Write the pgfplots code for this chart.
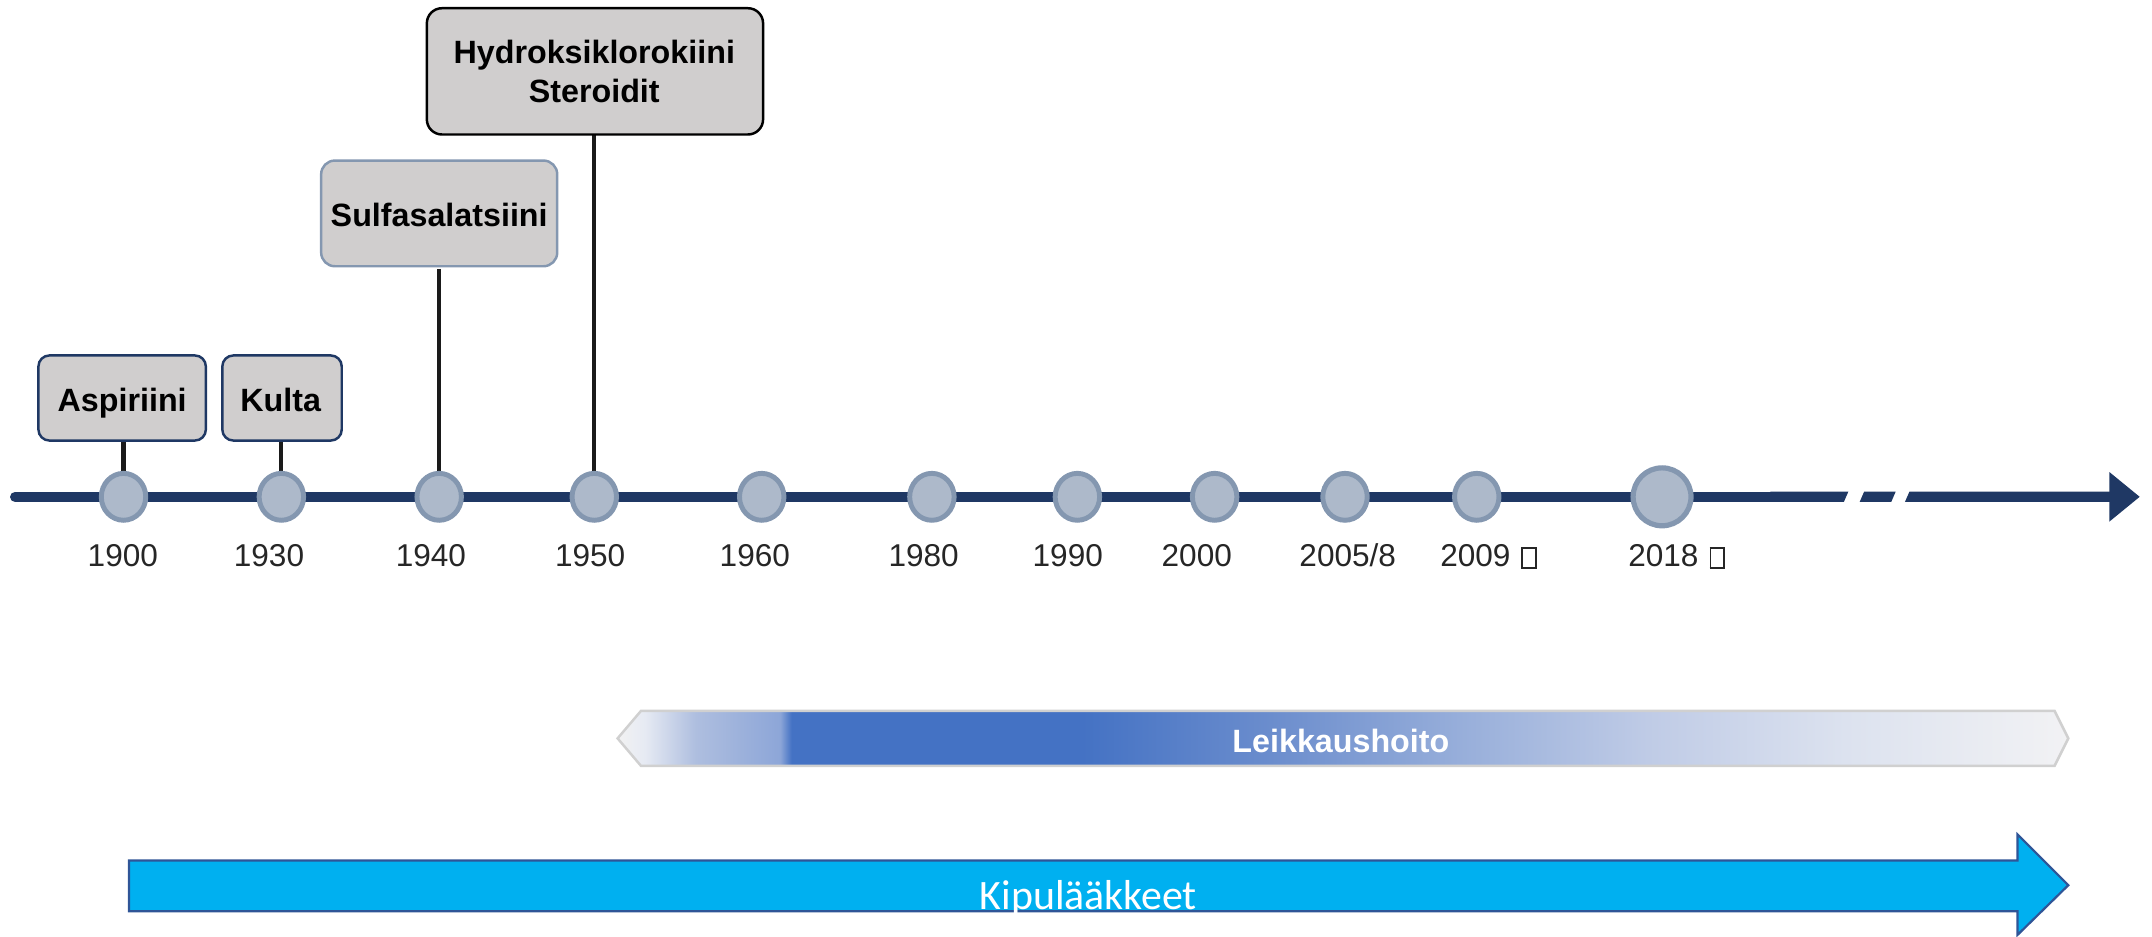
\documentclass[border=0pt]{standalone}
\usepackage{fontspec}
\setmainfont{Liberation Sans}
\newfontfamily\carlito{Carlito}
\usepackage{pgfplots}
\pgfplotsset{compat=1.18}

\definecolor{navy}{HTML}{1F3864}
\definecolor{ring}{HTML}{8497B0}
\definecolor{inner}{HTML}{ADB9CA}
\definecolor{boxfill}{HTML}{D0CECE}
\definecolor{yeartext}{HTML}{262626}
\definecolor{conn}{HTML}{1A1A1A}
\definecolor{kipu}{HTML}{00B0F0}
\definecolor{kipuedge}{HTML}{2F5597}
\definecolor{bandedge}{HTML}{D0D0D0}
\definecolor{s0}{HTML}{F2F2F2}
\definecolor{s1}{HTML}{E6EAF3}
\definecolor{s2}{HTML}{AEBEDF}
\definecolor{s3}{HTML}{8DA6D8}
\definecolor{s4}{HTML}{4472C4}
\definecolor{s5}{HTML}{4472C4}
\definecolor{s6}{HTML}{6B8DCD}
\definecolor{s7}{HTML}{97AEDA}
\definecolor{s8}{HTML}{BFCBE6}
\definecolor{s9}{HTML}{DCE2EF}
\definecolor{s10}{HTML}{F2F2F4}

\pgfdeclarehorizontalshading{leik}{100bp}{color(0bp)=(s0); color(25bp)=(s0); color(25.95bp)=(s1); color(27.7bp)=(s2); color(30.6bp)=(s3); color(31bp)=(s4); color(41bp)=(s5); color(47.5bp)=(s6); color(54bp)=(s7); color(60.5bp)=(s8); color(67.3bp)=(s9); color(75bp)=(s10); color(100bp)=(s10)}

\pgfplotstableread{
x y
90 320
205 320
320 320
433 320
555 320
679 320
785 320
885 320
980 320
1076 320
}\milestones

\newcommand{\tofu}{\rlap{\hspace{8pt}{\setlength{\fboxsep}{0pt}\setlength{\fboxrule}{1.4pt}\fbox{\rule{0pt}{13pt}\hspace{8.5pt}}}}}

\begin{document}
\begin{tikzpicture}
\begin{axis}[hide axis, scale only axis, width=1568pt, height=682pt,
  xmin=0, xmax=1568, ymin=0, ymax=682, clip=false]

\path (axis cs:0,0) rectangle (axis cs:1568,682);

% Leikkaushoito band
\addplot[shading=leik, draw=bandedge, line width=1.8pt] coordinates
  {(450,144) (467,164) (1497,164) (1507,144) (1497,124) (467,124)} -- cycle;

% Kipulaakkeet arrow
\addplot[fill=kipu, draw=kipuedge, line width=1.6pt] coordinates
  {(94,55) (1470,55) (1470,74) (1507,37) (1470,0.8) (1470,18) (94,18)} -- cycle;

% timeline
\addplot[navy, line width=7.4pt, line cap=round] coordinates {(11,320) (1300,320)};
\addplot[fill=navy, draw=none] coordinates
  {(1290,316.3) (1343.5,316.3) (1346.7,323.7) (1290,323.7)} -- cycle;
\addplot[fill=navy, draw=none] coordinates
  {(1355,316.3) (1378,316.3) (1381.2,323.7) (1358.2,323.7)} -- cycle;
\addplot[fill=navy, draw=none] coordinates
  {(1388,316.3) (1540,316.3) (1540,323.7) (1391.2,323.7)} -- cycle;
\addplot[fill=navy, draw=none] coordinates
  {(1537,338) (1559,320) (1537,302)} -- cycle;

% connectors
\addplot[conn, line width=3pt] coordinates {(90,361) (90,330)};
\addplot[conn, line width=3pt] coordinates {(205,361) (205,330)};
\addplot[conn, line width=3pt] coordinates {(320,486) (320,330)};
\addplot[conn, line width=3pt] coordinates {(433,584) (433,330)};

% boxes
\addplot[fill=boxfill, draw=navy, line width=1.8pt, rounded corners=8pt] coordinates
  {(28,361) (150,361) (150,423) (28,423)} -- cycle;
\addplot[fill=boxfill, draw=navy, line width=1.8pt, rounded corners=8pt] coordinates
  {(162,361) (249,361) (249,423) (162,423)} -- cycle;
\addplot[fill=boxfill, draw=ring, line width=1.8pt, rounded corners=10pt] coordinates
  {(234,488) (406,488) (406,565) (234,565)} -- cycle;
\addplot[fill=boxfill, draw=black, line width=1.8pt, rounded corners=11pt] coordinates
  {(311,584) (556,584) (556,676) (311,676)} -- cycle;

% milestone circles
\addplot[only marks, mark=*, mark size=16.2pt,
  mark options={draw=ring, fill=inner, line width=3.6pt, yscale=1.055}] table {\milestones};
\addplot[only marks, mark=*, mark size=21.1pt,
  mark options={draw=ring, fill=inner, line width=3.8pt}] coordinates {(1211,320)};

% box texts
\node[anchor=base, inner sep=0, font=\bfseries\fontsize{23.5}{28}\selectfont] at (axis cs:89,382) {Aspiriini};
\node[anchor=base, inner sep=0, font=\bfseries\fontsize{23.5}{28}\selectfont] at (axis cs:204.5,382) {Kulta};
\node[anchor=base, inner sep=0, font=\bfseries\fontsize{23.5}{28}\selectfont] at (axis cs:320,517) {Sulfasalatsiini};
\node[anchor=base, inner sep=0, font=\bfseries\fontsize{23.5}{28}\selectfont] at (axis cs:433,636) {Hydroksiklorokiini};
\node[anchor=base, inner sep=0, font=\bfseries\fontsize{23.5}{28}\selectfont] at (axis cs:433,607) {Steroidit};

% year labels
\begin{scope}[every node/.style={anchor=base, inner sep=0, text=yeartext, font=\fontsize{23}{27}\selectfont}]
\node at (axis cs:89.5,269) {1900};
\node at (axis cs:196,269) {1930};
\node at (axis cs:314,269) {1940};
\node at (axis cs:430,269) {1950};
\node at (axis cs:550,269) {1960};
\node at (axis cs:673,269) {1980};
\node at (axis cs:778,269) {1990};
\node at (axis cs:872,269) {2000};
\node at (axis cs:982,269) {2005/8};
\node at (axis cs:1075,269) {2009\tofu};
\node at (axis cs:1212,269) {2018\tofu};
\end{scope}

% band texts
\node[anchor=base, inner sep=0, text=white, font=\bfseries\fontsize{23.5}{28}\selectfont] at (axis cs:977,134) {Leikkaushoito};
\node[anchor=base, inner sep=0, text=white, font=\carlito\fontsize{30.5}{36}\selectfont] at (axis cs:793,19) {Kipulääkkeet};

\end{axis}
\end{tikzpicture}
\end{document}
